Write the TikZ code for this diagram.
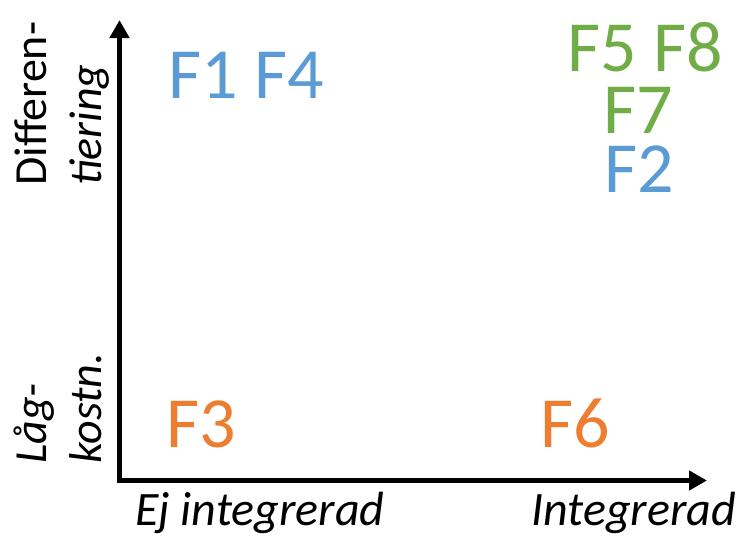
\documentclass[tikz,border=0pt]{standalone}
\usepackage{fontspec}
\setmainfont{Carlito}
\usetikzlibrary{arrows.meta}
\definecolor{fblue}{HTML}{5B9BD5}
\definecolor{fgreen}{HTML}{70AD47}
\definecolor{forange}{HTML}{ED7D31}
\begin{document}
\begin{tikzpicture}[x=1pt,y=-1pt,
  flabel/.style={inner sep=0pt, anchor=base, text height=46pt, text depth=0pt, font=\fontsize{72}{86}\selectfont},
  axlabel/.style={inner sep=0pt, anchor=base west, font=\fontsize{46}{55}\selectfont},
  axis/.style={line width=5pt, line join=miter, {Triangle[length=18pt,width=19pt]}-{Triangle[length=18pt,width=19pt]}}]
\useasboundingbox (0,0) rectangle (741,547);
\coordinate (ytip) at (119.5,20);
\coordinate (O) at (119.5,480.5);
\coordinate (xtip) at (707,480.5);
\draw[axis] (ytip) -- (O) -- (xtip);
% quadrant labels
\node[flabel, text=fblue] (f14) at (246.5,98) {F1 F4};
\node[flabel, text=fgreen] (f58) at (645,71) {F5 F8};
\node[flabel, text=fgreen] (f7) at (638,133) {F7};
\node[flabel, text=fblue] (f2) at (639,192) {F2};
\node[flabel, text=forange] (f3) at (201.5,447) {F3};
\node[flabel, text=forange] (f6) at (575.5,447) {F6};
% axis labels
\node[axlabel, font=\fontsize{48}{58}\selectfont] (ej) at (135,525) {\itshape Ej integrerad};
\node[axlabel, font=\fontsize{48}{58}\selectfont] (int) at (531,525) {\itshape Integrerad};
\node[axlabel, rotate=90] (diff) at (46,186) {Differen-};
\node[axlabel, rotate=90] (tier) at (101,186) {\itshape tiering};
\node[axlabel, rotate=90] (lag) at (46,464) {\itshape Låg-};
\node[axlabel, rotate=90] (kost) at (101,464) {\itshape kostn.};
\end{tikzpicture}
\end{document}
